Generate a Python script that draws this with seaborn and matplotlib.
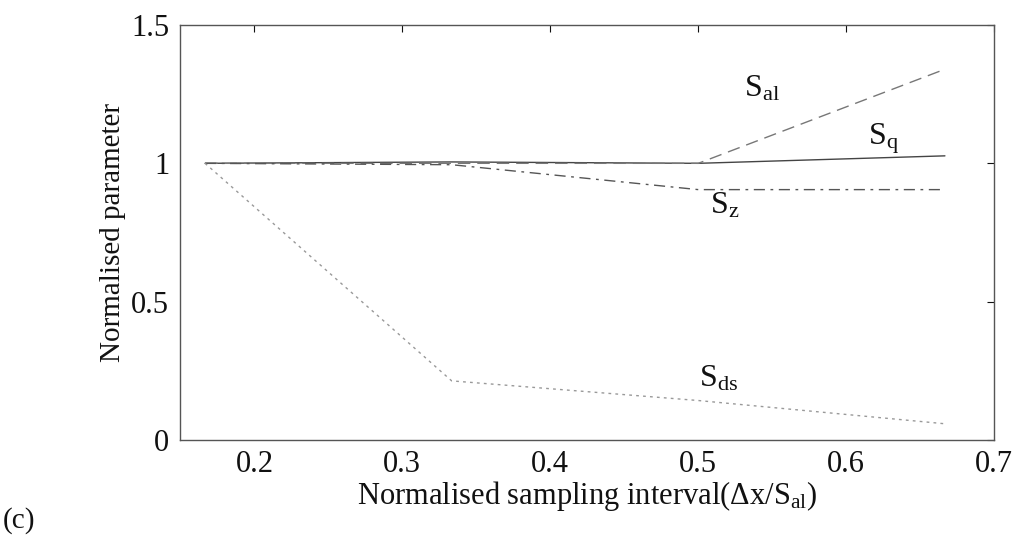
import numpy as np
import pandas as pd
import matplotlib
matplotlib.use("Agg")
import matplotlib.pyplot as plt
import seaborn as sns

x_vals = [1/6, 1/3, 1/2, 2/3]
s_q = [1.0, 1.005, 1.0, 1.027]
s_al = [1.0, 1.0, 1.0, 1.34]
s_z = [1.0, 0.995, 0.905, 0.905]
s_ds = [1.0, 0.214, 0.143, 0.059]

x_ticks = [0.2, 0.3, 0.4, 0.5, 0.6, 0.7]
y_ticks = [0, 0.5, 1, 1.5]
y_tick_labels = ["0", "0.5", "1", "1.5"]

sns.set_theme(style="white")
plt.rcParams['font.family'] = ['Liberation Serif', 'DejaVu Serif']
plt.rcParams['mathtext.fontset'] = 'custom'
plt.rcParams['mathtext.rm'] = 'Liberation Serif'
plt.rcParams['mathtext.it'] = 'Liberation Serif'

fig = plt.figure(figsize=(10.25, 5.42), dpi=100)
ax = fig.add_axes([0.176, 0.188, 0.794, 0.766])

series = [
    (s_q, "-", "#444444", 1.0),
    (s_al, (0, (9, 5)), "#777777", 1.0),
    (s_z, (0, (8, 4, 2, 4)), "#555555", 1.0),
    (s_ds, (0, (2, 3)), "#999999", 1.0),
]
for vals, ls, col, lw in series:
    df = pd.DataFrame({"x": x_vals, "y": vals})
    sns.lineplot(data=df, x="x", y="y", ax=ax, color=col, linestyle=ls, linewidth=lw)

ax.set_xlim(0.15, 0.7)
ax.set_ylim(0, 1.5)
ax.set_xticks(x_ticks)
ax.set_xticklabels([str(t) for t in x_ticks])
ax.set_yticks(y_ticks)
ax.set_yticklabels(y_tick_labels)
ax.tick_params(direction="in", length=5, width=0.8, top=True, right=True,
               labelsize=22, colors="#111111")
ax.tick_params(axis="x", pad=7)
ax.tick_params(axis="y", pad=8)
for sp in ax.spines.values():
    sp.set_visible(True)
    sp.set_color("#555555")
    sp.set_linewidth(1.0)

ax.set_xlabel(r"Normalised sampling interval($\Delta$x/S$_{\mathrm{al}}$)", fontsize=22, labelpad=0, color="#111111")
ax.set_ylabel("Normalised parameter", fontsize=21, labelpad=4, color="#111111")

fs = 23
ax.text(0.543, 1.27, r"S$_{\mathrm{al}}$", fontsize=fs, ha="center", va="center", color="#111111")
ax.text(0.625, 1.09, r"S$_{\mathrm{q}}$", fontsize=fs, ha="center", va="center", color="#111111")
ax.text(0.518, 0.845, r"S$_{\mathrm{z}}$", fontsize=fs, ha="center", va="center", color="#111111")
ax.text(0.514, 0.22, r"S$_{\mathrm{ds}}$", fontsize=fs, ha="center", va="center", color="#111111")

fig.text(0.003, 0.04, "(c)", fontsize=21, ha="left", va="center", color="#111111")

fig.savefig("out.png", dpi=100)
